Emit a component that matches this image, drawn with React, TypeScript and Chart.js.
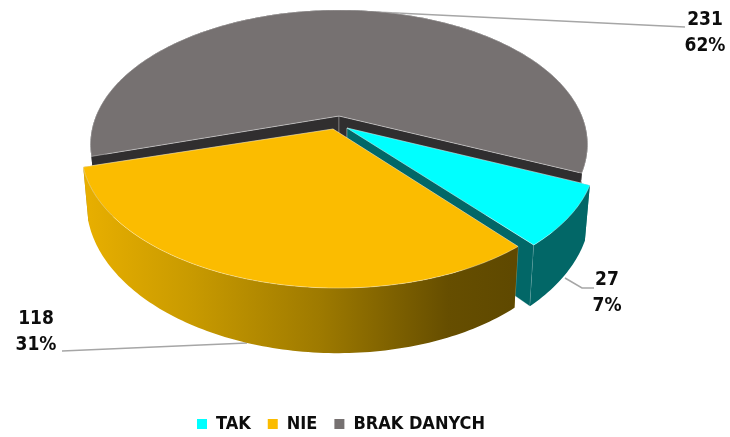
import React, { useEffect, useRef } from "react";
import { Chart, registerables } from "chart.js";

Chart.register(...registerables);

const categories = ["TAK", "NIE", "BRAK DANYCH"];
const values = [27, 118, 231];
const percentLabels = ["7%", "31%", "62%"];
const topColors = ["#00FFFF", "#FBBC00", "#767171"];
const wallColors = ["#026767", "#8A6A00", "#302E2F"];
const drawOrder = [2, 0, 1];

const FONT = '"DejaVu Sans Condensed", "DejaVu Sans", sans-serif';

// projection of the unit pie onto the screen, one set per slice
const X0 = 339, Y0 = 116;
const BACK_VIEW = { ax: 243, dy: 128.4, skew: 0, persp: -0.211 };
const sliceView = [
  { ...BACK_VIEW, sx: 8, sy: 12 },
  { ax: 247.5, dy: 130.4, skew: 2.57, persp: -0.18, sx: -6, sy: 13 },
  { ...BACK_VIEW, sx: 0, sy: 0 },
];
const labelPos = [[607, 280], [36, 319], [705, 20]];
const leaders = [
  [[565, 278], [582, 288], [594, 288]],
  [[62, 351], [247, 343]],
  [[355, 11], [685, 27]],
];

type Pt = [number, number];
type View = { ax: number; dy: number; skew: number; persp: number; sx: number; sy: number };

function project(u: number, v: number, s: View): Pt {
  const w = 1 + s.persp * v;
  return [X0 + (s.ax * u) / w + s.sx, Y0 + (s.dy * v + s.skew * u) / w + s.sy];
}
function lower(p: Pt): Pt {
  return [X0 + (p[0] - X0) * 0.98, p[1] + 56 + 0.09 * (p[1] - 187)];
}
function arcPoints(a0: number, a1: number, s: View): Pt[] {
  const pts: Pt[] = [];
  const n = Math.max(2, Math.ceil(((a1 - a0) * 180) / Math.PI));
  for (let i = 0; i <= n; i++) {
    const a = a0 + ((a1 - a0) * i) / n;
    pts.push(project(Math.cos(a), Math.sin(a), s));
  }
  return pts;
}
function poly(ctx: CanvasRenderingContext2D, pts: Pt[], fill: any, line?: string) {
  ctx.beginPath();
  pts.forEach((p, i) => (i ? ctx.lineTo(p[0], p[1]) : ctx.moveTo(p[0], p[1])));
  ctx.closePath();
  ctx.fillStyle = fill;
  ctx.fill();
  if (line) {
    ctx.strokeStyle = line;
    ctx.lineWidth = 0.8;
    ctx.stroke();
  }
}

const pie3d = {
  id: "pie3d",
  beforeDatasetsDraw(chart: any) {
    const ctx: CanvasRenderingContext2D = chart.ctx;
    const arcs = chart.getDatasetMeta(0).data;
    ctx.save();
    // leader lines sit behind the pie
    ctx.strokeStyle = "#A6A6A6";
    ctx.lineWidth = 1.5;
    leaders.forEach((l) => {
      ctx.beginPath();
      l.forEach((p, i) => (i ? ctx.lineTo(p[0], p[1]) : ctx.moveTo(p[0], p[1])));
      ctx.stroke();
    });
    drawOrder.forEach((i) => {
      const el = arcs[i];
      const s = sliceView[i];
      const arc = arcPoints(el.startAngle, el.endAngle, s);
      const apex = project(0, 0, s);
      const first = arc[0];
      const last = arc[arc.length - 1];
      let wall: any = wallColors[i];
      if (i === 1) {
        const g = ctx.createLinearGradient(85, 0, 512, 0);
        g.addColorStop(0, "#E8AF00");
        g.addColorStop(0.25, "#C89A00");
        g.addColorStop(0.55, "#9E7A00");
        g.addColorStop(0.85, "#664E00");
        g.addColorStop(1, "#5F4900");
        wall = g;
      }
      const edgeLine = "rgba(255,255,255,0.35)";
      poly(ctx, [apex, first, lower(first), lower(apex)], wallColors[i], edgeLine);
      poly(ctx, [apex, last, lower(last), lower(apex)], wallColors[i], edgeLine);
      poly(ctx, [...arc, ...arc.map(lower).reverse()], wall);
      poly(ctx, [apex, ...arc], topColors[i], "rgba(255,255,255,0.45)");
    });
    ctx.restore();
    return false;
  },
  afterDraw(chart: any) {
    const ctx: CanvasRenderingContext2D = chart.ctx;
    ctx.save();
    ctx.fillStyle = "#0D0D0D";
    ctx.font = `bold 19px ${FONT}`;
    ctx.textAlign = "center";
    ctx.textBaseline = "middle";
    values.forEach((v, i) => {
      ctx.fillText(String(v), labelPos[i][0], labelPos[i][1]);
      ctx.fillText(percentLabels[i], labelPos[i][0], labelPos[i][1] + 26);
    });
    ctx.restore();
  },
};

export default function App() {
  const ref = useRef<HTMLCanvasElement>(null);
  useEffect(() => {
    document.body.style.margin = "0";
    const chart = new Chart(ref.current!, {
      type: "pie",
      data: {
        labels: categories,
        datasets: [{ data: values, backgroundColor: topColors, borderWidth: 0 }],
      },
      options: {
        responsive: false,
        animation: false,
        rotation: 114,
        layout: { padding: { right: 48, bottom: -6 } },
        plugins: {
          tooltip: { enabled: false },
          legend: {
            position: "bottom",
            labels: {
              usePointStyle: true,
              pointStyle: "rect",
              boxWidth: 10,
              boxHeight: 10,
              padding: 17,
              color: "#0D0D0D",
              font: { family: FONT, size: 18, weight: "bold" },
            },
          },
        },
      },
      plugins: [pie3d],
    } as any);
    return () => chart.destroy();
  }, []);
  return (
    <div style={{ width: 730, height: 437 }}>
      <canvas ref={ref} width={730} height={437} style={{ display: "block" }} />
    </div>
  );
}
